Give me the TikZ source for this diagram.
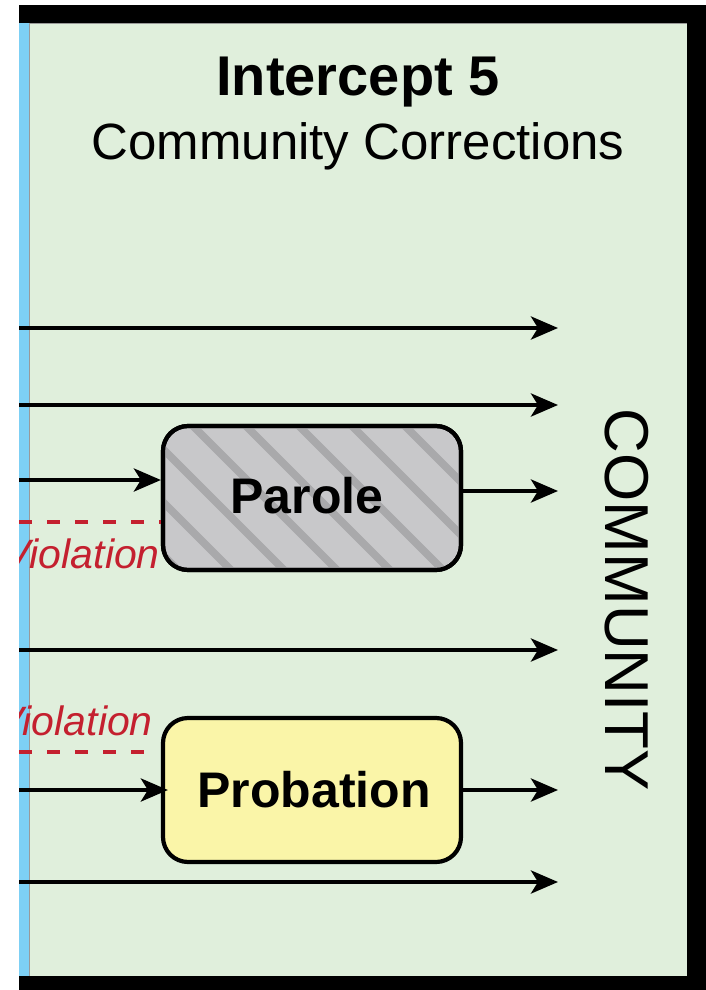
\documentclass[tikz,border=0pt]{standalone}
\usepackage{fontspec}
\setmainfont{Liberation Sans}
\usetikzlibrary{arrows.meta}
\definecolor{bggreen}{HTML}{E0EFDC}
\definecolor{stripblue}{HTML}{7DD0F5}
\definecolor{parolegray}{HTML}{C8C8CA}
\definecolor{hatchgray}{HTML}{A9A9AB}
\definecolor{probyellow}{HTML}{FAF5A8}
\definecolor{violred}{HTML}{C4202F}
\tikzset{
  flow/.style={line width=4.3pt, -{Stealth[length=27pt,width=23pt,inset=7pt]}},
  viol/.style={violred, line width=3.8pt, dash pattern=on 13pt off 15pt},
  violtext/.style={violred, font=\itshape\fontsize{41}{44}\selectfont, anchor=base east, inner sep=0pt},
  stagebox/.style={rounded corners=25pt, line width=4.2pt, draw=black, minimum width=298pt, minimum height=144pt, inner sep=0pt},
  stagetext/.style={font=\bfseries\fontsize{50}{54}\selectfont, anchor=base, inner sep=0pt},
}
\begin{document}
\begin{tikzpicture}[x=1pt,y=-1pt]
\useasboundingbox (0,0) rectangle (706,990);
\fill[white] (0,0) rectangle (706,990);
\begin{scope}
\clip (19,0) rectangle (706,990);
% background
\fill[bggreen] (29,23) rectangle (687,976);
\draw[gray!80, line width=0.8pt] (29,23) rectangle (687,976);
\fill[stripblue] (19,23) rectangle (29,976);
% frame
\fill[black] (19,5) rectangle (706,23);
\fill[black] (687,5) rectangle (706,990);
\fill[black] (19,976) rectangle (706,990);
% titles
\node[font=\bfseries\fontsize{56}{60}\selectfont, anchor=base, inner sep=0pt] (title) at (358,95) {Intercept 5};
\node[font=\fontsize{51}{54}\selectfont, anchor=base, inner sep=0pt] (subtitle) at (358,159) {Community Corrections};
\node[font=\fontsize{62}{64}\selectfont, rotate=-90, anchor=base, inner sep=0pt] (community) at (605,600) {COMMUNITY};
% boxes
\node[stagebox, fill=parolegray] (parole) at (312,498) {};
\begin{scope}
\clip[rounded corners=25pt] (163,426) rectangle (461,570);
\foreach \k in {-5,...,6}{
  \draw[hatchgray, line width=7.5pt] ({167+53*\k},400) -- ({167+53*\k+220},620);
}
\end{scope}
\draw[rounded corners=25pt, line width=4.2pt] (163,426) rectangle (461,570);
\node[stagetext] (paroletext) at (307,513) {Parole};
\node[stagebox, fill=probyellow] (probation) at (312,790) {};
\node[stagetext] (probtext) at (314,807) {Probation};
% coordinates
\coordinate (a1) at (19,328); \coordinate (b1) at (558,328);
\coordinate (a2) at (19,405); \coordinate (b2) at (558,405);
\coordinate (a3) at (19,480);
\coordinate (b4) at (558,491);
\coordinate (d1) at (19,522); \coordinate (e1) at (161,522);
\coordinate (a5) at (19,650); \coordinate (b5) at (558,650);
\coordinate (d2) at (19,752); \coordinate (e2) at (157,752);
\coordinate (a6) at (19,790);
\coordinate (b7) at (558,790);
\coordinate (a8) at (19,882); \coordinate (b8) at (558,882);
% flows
\draw[flow] (a1) -- (b1);
\draw[flow] (a2) -- (b2);
\draw[flow] (a3) -- (parole.west |- a3);
\draw[flow] (parole.east |- b4) -- (b4);
\draw[flow] (a5) -- (b5);
\draw[flow, shorten >=-7pt] (a6) -- (probation.west |- a6);
\draw[flow] (probation.east |- b7) -- (b7);
\draw[flow] (a8) -- (b8);
% violations
\draw[viol] (d1) -- (e1);
\node[violtext] (v1) at (160,568) {Violation};
\draw[viol] (d2) -- (e2);
\node[violtext] (v2) at (153,735) {Violation};
\end{scope}
\end{tikzpicture}
\end{document}
